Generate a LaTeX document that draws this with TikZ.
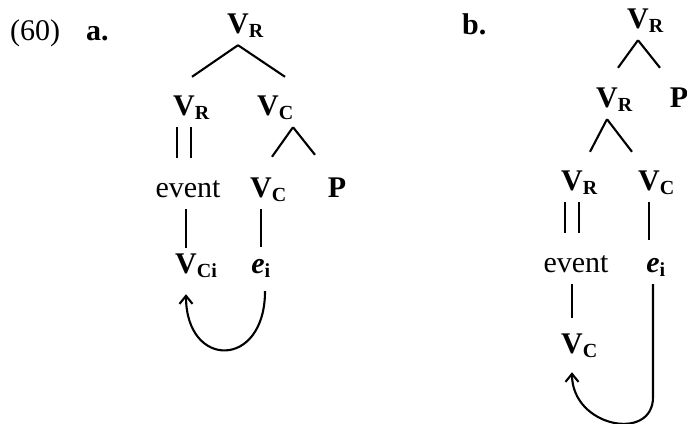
\documentclass[tikz,border=0pt]{standalone}
\usepackage{fontspec}
\setmainfont{Liberation Serif}
\usetikzlibrary{arrows.meta}
\newcommand{\cat}[2]{\textbf{#1}\rlap{\raisebox{-4pt}{\fontsize{20}{22}\selectfont\textbf{#2}}}}

\begin{document}
\begin{tikzpicture}[x=1pt,y=1pt,
  font=\fontsize{30}{34}\selectfont,
  lab/.style={inner sep=0pt, text height=20pt, text depth=12pt, anchor=base},
  branch/.style={line width=2.1pt},
  dbl/.style={double, double distance=12.5pt, line width=2.1pt},
  loop/.style={line width=2.1pt, -{Straight Barb[length=8pt,width=13pt]}}]
  \useasboundingbox (0,0) rectangle (687,-423);

  \node[lab, anchor=base west] (num) at (10,-40) {(60)};
  \node[lab, anchor=base west] (lblA) at (86,-40) {\textbf{a.}};
  \node[lab] (a0) at (238,-33) {\cat{V}{R}};
  \node[lab] (a1) at (184,-115) {\cat{V}{R}};
  \node[lab] (a2) at (268,-115) {\cat{V}{C}};
  \node[lab] (a3) at (188,-197) {event};
  \node[lab] (a4) at (261,-197) {\cat{V}{C}};
  \node[lab] (a5) at (337,-197) {\textbf{P}};
  \node[lab] (a6) at (186,-273) {\cat{V}{Ci}};
  \node[lab] (a7) at (258,-273) {\cat{\textit{e}}{i}};

  \draw[branch] (a0.south) -- ([shift={(8,18)}]a1.north);
  \draw[branch] (a0.south) -- ([shift={(17,18)}]a2.north);
  \draw[branch] ([xshift=25pt]a2.south) -- ([shift={(11,20)}]a4.north);
  \draw[branch] ([xshift=25pt]a2.south) -- ([shift={(-22,22)}]a5.north);
  \draw[dbl, shorten >=19pt] (a1.south) -- (a1.south |- a3.north);
  \draw[branch, shorten >=5pt] (a3.south -| a6.north) -- (a6.north);
  \draw[branch, shorten >=6pt] (a4.south) -- (a4.south |- a7.north);
  \draw[loop, shorten <=6pt, shorten >=9pt] ([xshift=7pt]a7.south)
    .. controls +(0,-84) and +(0,-84) .. (a6.south);

  \node[lab, anchor=base west] (lblB) at (462,-34) {\textbf{b.}};
  \node[lab] (b0) at (638,-28) {\cat{V}{R}};
  \node[lab] (b1) at (607,-107) {\cat{V}{R}};
  \node[lab] (b2) at (679,-107) {\textbf{P}};
  \node[lab] (b3) at (572,-190) {\cat{V}{R}};
  \node[lab] (b4) at (649,-190) {\cat{V}{C}};
  \node[lab] (b5) at (576,-272) {event};
  \node[lab] (b6) at (653,-272) {\cat{\textit{e}}{i}};
  \node[lab] (b7) at (572,-353) {\cat{V}{C}};

  \draw[branch] (b0.south) -- ([shift={(11,19)}]b1.north);
  \draw[branch] (b0.south) -- ([shift={(-19,19)}]b2.north);
  \draw[branch] (b1.south) -- ([shift={(18,18)}]b3.north);
  \draw[branch] (b1.south) -- ([shift={(-17,18)}]b4.north);
  \draw[dbl, shorten >=19pt] (b3.south) -- (b3.south |- b5.north);
  \draw[branch, shorten >=12pt] (b4.south) -- (b4.south |- b6.north);
  \draw[branch, shorten >=15pt] (b5.south -| b7.north) -- (b7.north);
  \draw[loop, shorten >=7pt] (b6.south) -- ([yshift=-113pt]b6.south)
    .. controls +(0,-45) and +(0,-62) .. (b7.south);
\end{tikzpicture}
\end{document}
